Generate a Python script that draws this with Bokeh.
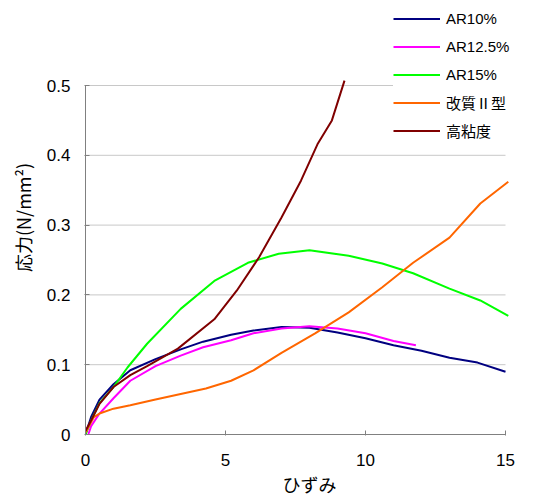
from bokeh.plotting import figure
from bokeh.models import Range1d, FixedTicker, Legend, LegendItem
from bokeh.embed import file_html
from bokeh.resources import INLINE

# ---- data ----
ar10_x = [0, 0.2, 0.5, 1, 1.6, 2.5, 3.4, 4.2, 5.2, 6, 7, 8, 9, 10, 11, 12, 13, 14, 15]
ar10_y = [0, 0.025, 0.05, 0.072, 0.092, 0.108, 0.122, 0.133, 0.143, 0.149, 0.154, 0.153,
          0.146, 0.138, 0.128, 0.12, 0.11, 0.103, 0.09]

ar125_x = [0, 0.1, 0.2, 0.5, 1, 1.6, 2.5, 3.4, 4.2, 5.2, 6, 7, 8, 9, 10, 11, 11.8]
ar125_y = [-0.008, 0.0, 0.012, 0.03, 0.052, 0.077, 0.098, 0.113, 0.125, 0.135, 0.145,
           0.152, 0.155, 0.152, 0.145, 0.134, 0.128]

ar15_x = [0, 0.2, 0.5, 1, 1.5, 2.2, 3.4, 4.6, 5.8, 6.9, 8, 9.4, 10.6, 11.7, 13, 14.1, 15.1]
ar15_y = [0, 0.02, 0.045, 0.068, 0.096, 0.13, 0.18, 0.22, 0.246, 0.259, 0.264, 0.256,
          0.245, 0.231, 0.209, 0.192, 0.17]

kaishitsu_x = [0, 0.1, 0.3, 0.5, 1, 1.6, 2.5, 3.4, 4.3, 5.2, 6, 7, 8.2, 9.4, 10.6, 11.7,
               13, 14.1, 15.1]
kaishitsu_y = [0.003, 0.01, 0.025, 0.03, 0.037, 0.042, 0.05, 0.058, 0.066, 0.077, 0.092,
               0.117, 0.145, 0.175, 0.211, 0.246, 0.282, 0.331, 0.362]

konendo_x = [0, 0.2, 0.5, 1, 1.6, 2.2, 3.3, 4.6, 5.4, 6.2, 7, 7.7, 8.3, 8.8, 9.25]
konendo_y = [0.005, 0.02, 0.044, 0.068, 0.085, 0.098, 0.123, 0.165, 0.206, 0.254, 0.311,
             0.364, 0.417, 0.45, 0.507]

series_names = ["AR10%", "AR12.5%", "AR15%", "改質Ⅱ型", "高粘度"]
series_colors = ["#000080", "#ff00ff", "#00ff00", "#ff6600", "#800000"]
x_ticks = [0, 5, 10, 15]
y_ticks = [0, 0.1, 0.2, 0.3, 0.4, 0.5]
x_max = 15
y_max = 0.5

TICK_FONT = "Liberation Sans"
CJK_FONT = "Noto Sans CJK JP"
MIX_FONT = "Liberation Sans, Noto Sans CJK JP"

# layout (pixels): plot area 85..505 (x), 85..434 (y) in a 533x501 canvas;
# the frame is extended to the canvas top/right so the legend may sit there.
W, H = 533, 501
LEFT, BOTTOM = 85, 67
AREA_W, AREA_H = 420, 349
x_end = x_max * (W - LEFT) / AREA_W
y_end = y_max * (H - BOTTOM) / AREA_H

p = figure(width=W, height=H, output_backend="svg", toolbar_location=None,
           x_range=Range1d(0, x_end), y_range=Range1d(0, y_end),
           min_border_left=LEFT, min_border_right=0, min_border_top=0,
           min_border_bottom=BOTTOM)
p.outline_line_color = None
p.background_fill_color = "white"
p.xgrid.visible = False
p.ygrid.visible = False

# horizontal gridlines at the y ticks (limited to the plot area)
grid_y = y_ticks[1:]
p.segment(x0=[0] * len(grid_y), x1=[x_max] * len(grid_y), y0=grid_y, y1=grid_y,
          line_color="#c8c8c8", line_width=1)

data = [(ar10_x, ar10_y), (ar125_x, ar125_y), (ar15_x, ar15_y),
        (kaishitsu_x, kaishitsu_y), (konendo_x, konendo_y)]
items = []
for (xs, ys), name, col in zip(data, series_names, series_colors):
    r = p.line(xs, ys, line_color=col, line_width=2)
    items.append(LegendItem(label=name, renderers=[r]))

# axes
p.xaxis.ticker = FixedTicker(ticks=x_ticks)
p.yaxis.ticker = FixedTicker(ticks=y_ticks)
p.xaxis.bounds = (0, x_max)
p.yaxis.bounds = (0, y_max)
p.yaxis.major_label_overrides = {0: "0"}
for ax in (p.xaxis[0], p.yaxis[0]):
    ax.axis_line_color = "#808080"
    ax.major_tick_line_color = "#808080"
    ax.major_tick_in = 4
    ax.major_tick_out = 1
    ax.minor_tick_line_color = None
    ax.major_label_text_font = TICK_FONT
    ax.major_label_text_font_size = "17px"
    ax.major_label_text_color = "#000000"
    ax.axis_label_text_font = CJK_FONT
    ax.axis_label_text_font_size = "18px"
    ax.axis_label_text_font_style = "normal"
    ax.axis_label_text_color = "#000000"
p.xaxis.major_label_standoff = 18
p.yaxis.major_label_standoff = 14
p.xaxis.axis_label = "ひずみ"
p.yaxis.axis_label = "応力(N/mm²)"
p.xaxis.axis_label_standoff = 2
p.yaxis.axis_label_standoff = 8

legend = Legend(items=items, location=(308, 293))
legend.background_fill_color = "white"
legend.background_fill_alpha = 1
legend.border_line_color = None
legend.padding = 4
legend.margin = 0
legend.spacing = 7
legend.label_height = 21
legend.glyph_height = 21
legend.glyph_width = 47
legend.label_standoff = 6
legend.label_text_font = MIX_FONT
legend.label_text_font_size = "15px"
legend.label_text_color = "#000000"
p.add_layout(legend, "center")

open("out.html", "w").write(file_html(p, INLINE))
